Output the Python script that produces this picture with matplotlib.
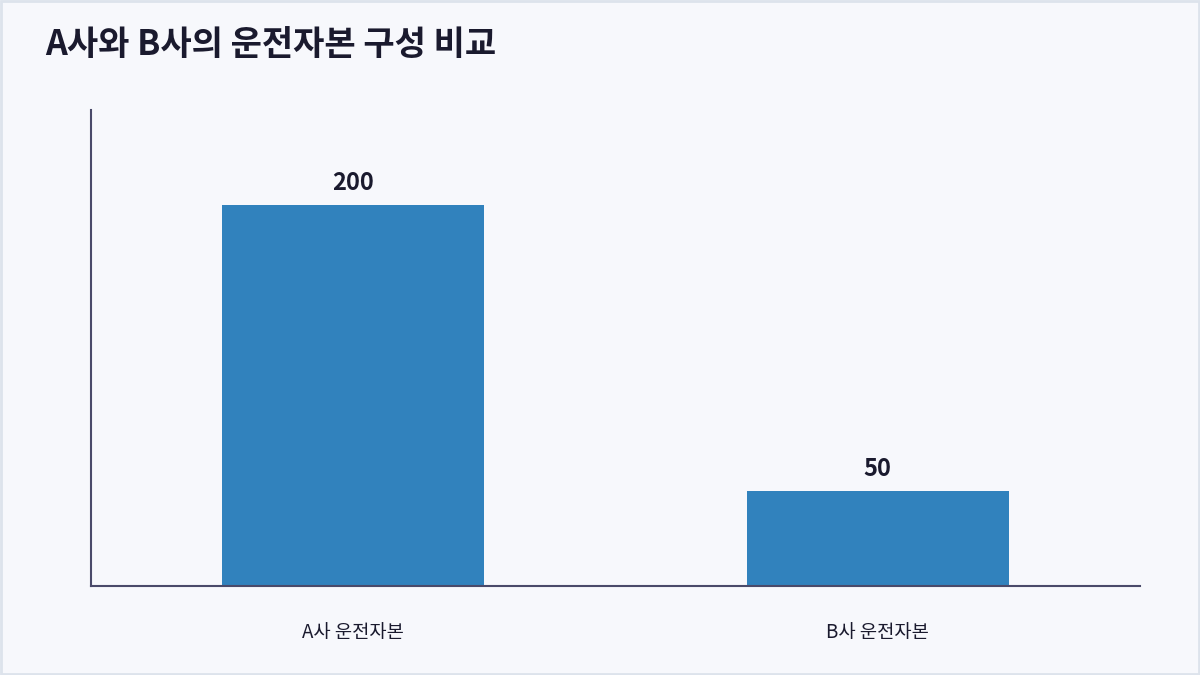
import matplotlib as mpl
mpl.use('Agg')

import matplotlib.pyplot as plt
from matplotlib.patches import Rectangle

plt.rcParams['font.family'] = ['Noto Sans CJK KR', 'DejaVu Sans']

# data
categories = ['A사 운전자본', 'B사 운전자본']
values = [200, 50]
title = 'A사와 B사의 운전자본 구성 비교'

bg = '#f7f8fc'
bar_color = '#3182bd'
text_color = '#1a1a2e'
axis_color = '#4a4a6a'

fig = plt.figure(figsize=(12, 6.75), dpi=100, facecolor=bg)
ax = fig.add_axes([0.0758, 0.1319, 0.8742, 0.7051])
ax.set_facecolor(bg)

xs = range(len(categories))
bars = ax.bar(xs, values, width=0.5, color=bar_color, zorder=2)

ax.set_xlim(-0.5, 1.5)
ax.set_ylim(0, 250)

# value labels above bars
for b, v in zip(bars, values):
    ax.annotate(str(v), (b.get_x() + b.get_width() / 2, v),
                xytext=(0, 7), textcoords='offset points',
                ha='center', va='bottom', fontsize=17, fontweight='bold',
                color=text_color)

ax.set_xticks(list(xs))
ax.set_xticklabels(categories, fontsize=13.5, fontweight='medium', color=text_color)
ax.tick_params(axis='x', length=0, pad=26)
ax.set_yticks([])

for s in ['top', 'right']:
    ax.spines[s].set_visible(False)
for s in ['left', 'bottom']:
    ax.spines[s].set_color(axis_color)
    ax.spines[s].set_linewidth(1.5)

fig.text(0.0375, 0.934, title, fontsize=24.5, fontweight='bold',
         color=text_color, ha='left', va='center')

# frame around the card
fig.patches.append(Rectangle((0.001, 0.0015), 0.998, 0.997, transform=fig.transFigure,
                             fill=False, edgecolor='#dde3ec', linewidth=2))

fig.savefig('out.png', dpi=100, facecolor=bg)
